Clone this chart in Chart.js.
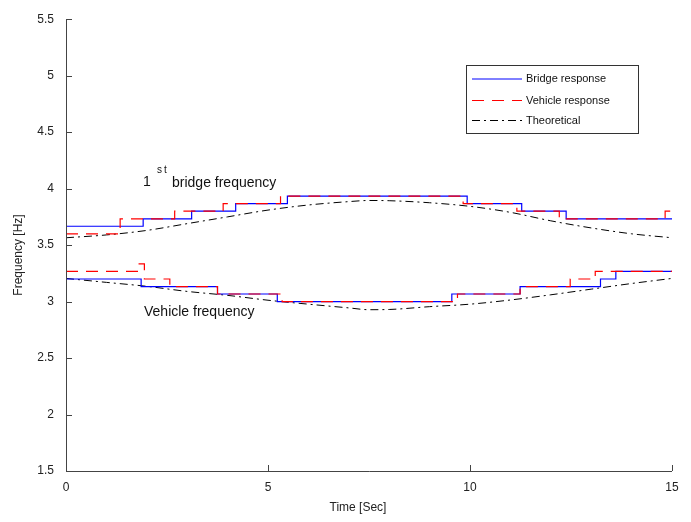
<!DOCTYPE html>
<html>
<head>
<meta charset="utf-8">
<script src="https://cdn.jsdelivr.net/npm/chart.js@4"></script>
<style>
  html, body { margin: 0; padding: 0; background: #fff; }
  canvas { display: block; }
</style>
</head>
<body>
<canvas id="freqChart" width="691" height="522"></canvas>
<script>
// step series: time of each step start [s] and frequency level [Hz]
const bridgeUpperT = [0, 1.91, 3.11, 4.20, 5.48, 9.93, 11.28, 12.38, 15];
const bridgeUpperF = [3.667, 3.733, 3.800, 3.867, 3.933, 3.867, 3.800, 3.733, 3.733];
const vehicleUpperT = [0, 1.34, 2.69, 3.89, 5.31, 9.83, 11.16, 12.21, 14.83, 15];
const vehicleUpperF = [3.600, 3.733, 3.800, 3.867, 3.933, 3.867, 3.800, 3.733, 3.800, 3.800];
const bridgeLowerT = [0, 1.86, 3.75, 5.23, 9.55, 11.24, 13.23, 13.61, 15];
const bridgeLowerF = [3.200, 3.133, 3.067, 3.000, 3.067, 3.133, 3.200, 3.267, 3.267];
const vehicleLowerT = [0, 1.79, 1.94, 2.57, 3.75, 5.35, 9.69, 11.24, 12.48, 13.10, 15];
const vehicleLowerF = [3.267, 3.333, 3.200, 3.133, 3.067, 3.000, 3.067, 3.133, 3.200, 3.267, 3.267];

// theoretical curves
const theoryT = [0, 1, 2, 3, 4, 5, 6, 7, 7.5, 8, 9, 10, 11, 12, 13, 14, 15];
const theoryUpper = [3.565, 3.59, 3.63, 3.69, 3.75, 3.81, 3.855, 3.885, 3.895, 3.893, 3.875, 3.843, 3.79, 3.715, 3.652, 3.60, 3.565];
const theoryLower = [3.205, 3.17, 3.135, 3.09, 3.055, 3.012, 2.977, 2.944, 2.928, 2.93, 2.955, 2.977, 3.014, 3.06, 3.11, 3.16, 3.205];

const xTicks = [0, 5, 10, 15];
const yTicks = [1.5, 2, 2.5, 3, 3.5, 4, 4.5, 5, 5.5];

const legendItems = ['Bridge response', 'Vehicle response', 'Theoretical'];

const FONT = 'Liberation Sans, Arial, sans-serif';
const BLUE = '#0000ff';
const RED = '#ff0000';
const BLACK = '#000000';
const DASH_RED = [12, 8];
const DASH_DOT = [8, 4, 2, 4];

const pts = (t, f) => t.map((x, i) => ({ x: x, y: f[i] }));

// level holds from its own time until the next step
const stepSet = (data, color, dash, order) => ({
  data: data,
  borderColor: color,
  backgroundColor: 'transparent',
  borderWidth: 1.2,
  borderDash: dash,
  stepped: 'before',
  pointRadius: 0,
  order: order
});

const curveSet = (data) => ({
  data: data,
  borderColor: BLACK,
  backgroundColor: 'transparent',
  borderWidth: 1,
  borderDash: DASH_DOT,
  cubicInterpolationMode: 'monotone',
  pointRadius: 0,
  order: 2
});

/* axes, legend and labels */
const decor = {
  id: 'decor',
  afterDraw(chart) {
    const ctx = chart.ctx;
    const a = chart.chartArea;
    const xs = chart.scales.x, ys = chart.scales.y;
    ctx.save();

    // axis lines with inward ticks
    ctx.strokeStyle = '#444';
    ctx.lineWidth = 1;
    ctx.beginPath();
    ctx.moveTo(a.left + 0.5, a.top);
    ctx.lineTo(a.left + 0.5, a.bottom + 0.5);
    ctx.lineTo(a.right, a.bottom + 0.5);
    yTicks.forEach(v => {
      const y = Math.round(ys.getPixelForValue(v)) + 0.5;
      ctx.moveTo(a.left, y);
      ctx.lineTo(a.left + 6, y);
    });
    xTicks.forEach(v => {
      const x = Math.round(xs.getPixelForValue(v)) + 0.5;
      ctx.moveTo(x, a.bottom);
      ctx.lineTo(x, a.bottom - 6);
    });
    ctx.stroke();

    // axis titles
    ctx.fillStyle = '#222';
    ctx.font = '12px ' + FONT;
    ctx.textAlign = 'center';
    ctx.textBaseline = 'middle';
    ctx.fillText('Time [Sec]', 358, 508);
    ctx.save();
    ctx.translate(19, 255);
    ctx.rotate(-Math.PI / 2);
    ctx.fillText('Frequency [Hz]', 0, 0);
    ctx.restore();

    // annotations
    ctx.fillStyle = '#111';
    ctx.textAlign = 'left';
    ctx.textBaseline = 'alphabetic';
    ctx.font = '14px ' + FONT;
    ctx.fillText('1', 143, 186);
    ctx.fillText('bridge frequency', 172, 187);
    ctx.fillText('Vehicle frequency', 144, 316);
    ctx.font = '10px ' + FONT;
    ctx.fillText('s', 157, 173);
    ctx.fillText('t', 164, 173);

    // legend box
    ctx.strokeStyle = '#333';
    ctx.strokeRect(466.5, 65.5, 172, 68);
    const rows = [79, 100.5, 120.5];
    const styles = [[BLUE, []], [RED, DASH_RED], [BLACK, DASH_DOT]];
    ctx.font = '11px ' + FONT;
    ctx.textBaseline = 'middle';
    legendItems.forEach((label, i) => {
      ctx.strokeStyle = styles[i][0];
      ctx.setLineDash(styles[i][1]);
      ctx.beginPath();
      ctx.moveTo(472, rows[i]);
      ctx.lineTo(522, rows[i]);
      ctx.stroke();
      ctx.setLineDash([]);
      ctx.fillStyle = '#111';
      ctx.fillText(label, 526, rows[i]);
    });
    ctx.restore();
  }
};

new Chart(document.getElementById('freqChart'), {
  type: 'line',
  data: {
    datasets: [
      stepSet(pts(vehicleUpperT, vehicleUpperF), RED, DASH_RED, 0),
      stepSet(pts(vehicleLowerT, vehicleLowerF), RED, DASH_RED, 0),
      stepSet(pts(bridgeUpperT, bridgeUpperF), BLUE, [], 1),
      stepSet(pts(bridgeLowerT, bridgeLowerF), BLUE, [], 1),
      curveSet(pts(theoryT, theoryUpper)),
      curveSet(pts(theoryT, theoryLower))
    ]
  },
  options: {
    responsive: false,
    animation: false,
    layout: {
      padding: { top: 16, right: 19, bottom: 0, left: 0 }
    },
    plugins: {
      legend: { display: false },
      tooltip: { enabled: false }
    },
    scales: {
      x: {
        type: 'linear',
        min: 0,
        max: 15,
        afterFit: s => { s.height = 51; },
        afterBuildTicks: s => { s.ticks = xTicks.map(v => ({ value: v })); },
        grid: { display: false, drawTicks: false },
        border: { display: false },
        ticks: { color: '#222', padding: 9, font: { size: 12, family: FONT } }
      },
      y: {
        min: 1.5,
        max: 5.5,
        afterFit: s => { s.width = 66; },
        afterBuildTicks: s => { s.ticks = yTicks.map(v => ({ value: v })); },
        grid: { display: false, drawTicks: false },
        border: { display: false },
        ticks: {
          color: '#222',
          padding: 12,
          font: { size: 12, family: FONT },
          callback: v => String(v)
        }
      }
    }
  },
  plugins: [decor]
});
</script>
</body>
</html>
